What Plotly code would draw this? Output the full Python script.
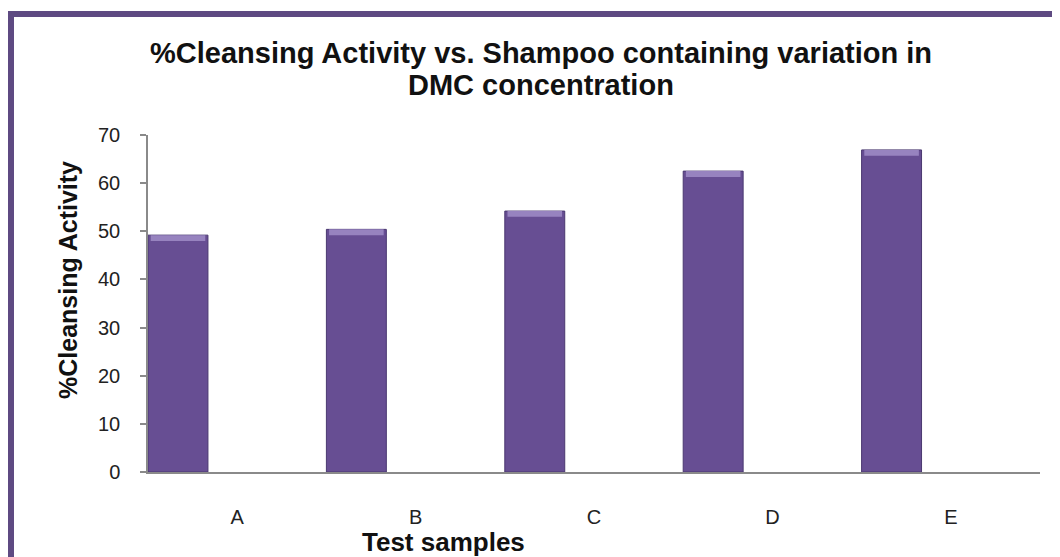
import plotly.graph_objects as go

categories = ["A", "B", "C", "D", "E"]
cleansing = [49.2, 50.4, 54.2, 62.5, 66.9]
y_ticks = [0, 10, 20, 30, 40, 50, 60, 70]

positions = list(range(len(categories)))
bar_width = 0.336

# page body has an 8px margin, so figure pixel = screen pixel - 8
OFF = 8
W, H = 1060 - OFF, 557 - OFF
L, R, T, B = 148 - OFF, 20, 135 - OFF, 85
PW, PH = W - L - R, H - T - B


def px(x):
    return (x - OFF - L) / PW


def py(y):
    return (H - B - (y - OFF)) / PH


fig = go.Figure()
fig.add_trace(go.Bar(
    x=positions, y=cleansing, width=bar_width, offset=-0.5,
    marker=dict(color="#674e93", line=dict(color="#4a3870", width=1)),
    showlegend=False, hoverinfo="y",
))
# bevel highlight on top of each bar
fig.add_trace(go.Bar(
    x=positions, y=[1.2] * len(cleansing), base=[v - 1.2 for v in cleansing],
    width=bar_width - 0.03, offset=-0.485,
    marker=dict(color="#9783bf", line=dict(width=0)),
    showlegend=False, hoverinfo="skip",
))

fig.update_layout(
    width=W, height=H,
    barmode="overlay",
    paper_bgcolor="white", plot_bgcolor="white",
    margin=dict(l=L, r=R, t=T, b=B),
    font=dict(family="Liberation Sans, Arial, sans-serif", color="#222222"),
    xaxis=dict(
        range=[-0.5, 4.5], tickmode="array", tickvals=positions, ticktext=categories,
        showline=True, linecolor="#8a8a8a", linewidth=1.5, showgrid=False,
        ticks="", tickfont=dict(size=20, color="#222222"), ticklabelstandoff=26,
        zeroline=False,
    ),
    yaxis=dict(
        range=[0, 70], tickmode="array", tickvals=y_ticks,
        showline=True, linecolor="#8a8a8a", linewidth=1.5, showgrid=False,
        ticks="outside", ticklen=6, tickcolor="#8a8a8a", tickwidth=1.5,
        tickfont=dict(size=20, color="#222222"), ticklabelstandoff=16,
        zeroline=False,
    ),
    annotations=[
        dict(text="<b>%Cleansing Activity vs. Shampoo containing variation in</b>",
             xref="paper", yref="paper", x=px(541), y=py(53),
             xanchor="center", yanchor="middle", showarrow=False,
             font=dict(size=29, color="#111111")),
        dict(text="<b>DMC concentration</b>",
             xref="paper", yref="paper", x=px(541), y=py(85),
             xanchor="center", yanchor="middle", showarrow=False,
             font=dict(size=29, color="#111111")),
        dict(text="<b>%Cleansing Activity</b>", textangle=-90,
             xref="paper", yref="paper", x=px(68), y=py(280),
             xanchor="center", yanchor="middle", showarrow=False,
             font=dict(size=25, color="#111111")),
        dict(text="<b>Test samples</b>",
             xref="paper", yref="paper", x=px(443), y=py(542),
             xanchor="center", yanchor="middle", showarrow=False,
             font=dict(size=26, color="#111111")),
    ],
    shapes=[
        dict(type="path", xref="paper", yref="paper",
             path=f"M {px(11)},{py(600)} L {px(11)},{py(14)} L {px(1080)},{py(14)}",
             line=dict(color="#5e4a82", width=6), layer="above"),
    ],
)

fig.write_html("out.html")
